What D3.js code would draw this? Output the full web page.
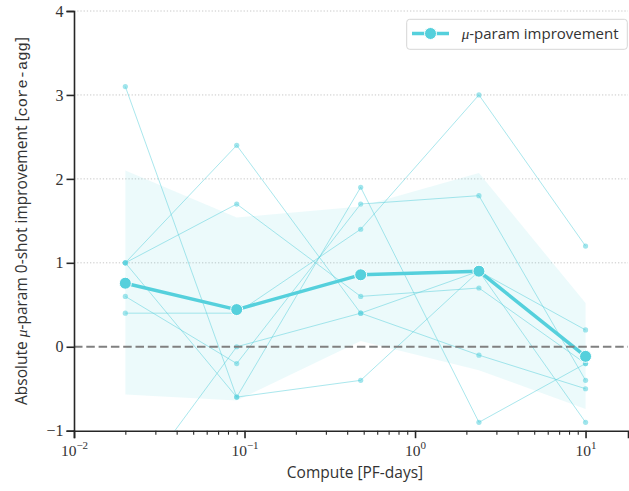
<!DOCTYPE html>
<html><head><meta charset="utf-8">
<script src="https://cdn.jsdelivr.net/npm/d3@7"></script>
<style>body{margin:0;background:#fff;} svg{display:block;}</style>
</head><body><svg id="chart" width="629" height="491"></svg>
<script>
// ---- data ----
const compute = [0.02, 0.09, 0.48, 2.37, 10];
const taskA = [3.1, -0.6, 1.9, -0.9, -0.2];
const taskB = [1.0, 2.4, 0.4, -0.1, -0.5];
const taskC = [1.0, 1.7, 0.6, 0.7, -0.2];
const taskD = [1.0, -0.6, -0.4, 0.9, -0.9];
const taskE = [0.6, -0.2, 1.7, 1.8, -0.4];
const taskF = [0.4, 0.4, 1.4, 3.0, 1.2];
const taskG = [-1.8, 0.0, 0.4, 0.9, 0.2];
const bandLow = [-0.57, -0.64, 0.07, -0.28, -0.74];
const bandHigh = [2.1, 1.54, 1.67, 2.07, 0.52];
const yTicks = [-1, 0, 1, 2, 3, 4];
const gridTicks = [1, 2, 3, 4];
const xTickExps = [-2, -1, 0, 1];
const legendLabel = "-param improvement";

const tasks = [taskA, taskB, taskC, taskD, taskE, taskF, taskG];
const meanVals = compute.map((c, i) => d3.mean(tasks, t => t[i]));

// ---- layout ----
const color = "#55d0dc";
const L = 74, R = 628, T = 11, B = 430.7;
const svg = d3.select("#chart");
const x = d3.scaleLog().domain([0.01, 17.74]).range([L, R]);
const y = d3.scaleLinear().domain([-1, 4]).range([B, T]);
const sans = "'Open Sans', sans-serif";
const serif = "'Liberation Serif', 'DejaVu Serif', serif";
const mono = "'Liberation Mono', 'DejaVu Sans Mono', monospace";

svg.append("defs").append("clipPath").attr("id", "clip")
  .append("rect").attr("x", L).attr("y", T).attr("width", R - L).attr("height", B - T);

// grid
svg.append("g").selectAll("line").data(gridTicks).join("line")
  .attr("x1", L).attr("x2", R).attr("y1", d => y(d)).attr("y2", d => y(d))
  .attr("stroke", "#c8c8c8").attr("stroke-width", 1).attr("stroke-dasharray", "1.3,1.9");

const plot = svg.append("g").attr("clip-path", "url(#clip)");

// band
const area = d3.area().x((d, i) => x(compute[i])).y0((d, i) => y(bandLow[i])).y1((d, i) => y(bandHigh[i]));
plot.append("path").datum(compute).attr("d", area).attr("fill", color).attr("fill-opacity", 0.11);

// thin task lines
const line = d3.line().x((d, i) => x(compute[i])).y(d => y(d));
tasks.forEach(t => {
  plot.append("path").datum(t).attr("d", line).attr("fill", "none")
    .attr("stroke", color).attr("stroke-opacity", 0.5).attr("stroke-width", 1);
  plot.append("g").selectAll("circle").data(t).join("circle")
    .attr("cx", (d, i) => x(compute[i])).attr("cy", d => y(d)).attr("r", 2.6)
    .attr("fill", color).attr("fill-opacity", 0.55);
});

// zero line
svg.append("line").attr("x1", L).attr("x2", R).attr("y1", y(0)).attr("y2", y(0))
  .attr("stroke", "#808080").attr("stroke-width", 2.2).attr("stroke-dasharray", "8.5,3.8");

// mean line
plot.append("path").datum(meanVals).attr("d", line).attr("fill", "none")
  .attr("stroke", color).attr("stroke-width", 3.5).attr("stroke-linejoin", "round");
svg.append("g").selectAll("circle").data(meanVals).join("circle")
  .attr("cx", (d, i) => x(compute[i])).attr("cy", d => y(d)).attr("r", 6)
  .attr("fill", color).attr("stroke", "#fff").attr("stroke-width", 1);

// axes
const axisColor = "#262626";
const yAxis = svg.append("g").attr("transform", `translate(${L},0)`)
  .call(d3.axisLeft(y).tickValues(yTicks).tickSize(7.5).tickPadding(3)
    .tickFormat(d => d < 0 ? "\u2212" + Math.abs(d) : d));
yAxis.select(".domain").attr("stroke", axisColor).attr("stroke-width", 1.6);
yAxis.selectAll(".tick line").attr("stroke", axisColor).attr("stroke-width", 1.6);
yAxis.selectAll(".tick text").attr("font-family", serif).attr("font-size", 16).attr("fill", "#333");

const minorTicks = [];
xTickExps.forEach(e => { for (let k = 2; k <= 9; k++) { const v = k * Math.pow(10, e); if (v <= 17.74) minorTicks.push(v); } });
const xMinor = svg.append("g").attr("transform", `translate(0,${B})`)
  .call(d3.axisBottom(x).tickValues(minorTicks).tickSize(4).tickFormat(""));
xMinor.select(".domain").remove();
xMinor.selectAll(".tick line").attr("stroke", axisColor).attr("stroke-width", 1.1);

const xAxis = svg.append("g").attr("transform", `translate(0,${B})`)
  .call(d3.axisBottom(x).tickValues(xTickExps.map(e => Math.pow(10, e))).tickSize(7.5).tickFormat(""));
xAxis.select(".domain").attr("stroke", axisColor).attr("stroke-width", 1.6);
xAxis.selectAll(".tick line").attr("stroke", axisColor).attr("stroke-width", 1.6);
xAxis.selectAll(".tick").each(function(d, i) {
  const t = d3.select(this).append("text").attr("y", 25.5).attr("text-anchor", "middle")
    .attr("font-family", serif).attr("font-size", 15.5).attr("fill", "#333");
  t.append("tspan").text("10");
  const e = xTickExps[i];
  t.append("tspan").attr("dy", -7).attr("font-size", 11).text(e < 0 ? "\u2212" + Math.abs(e) : e);
});

// axis titles
svg.append("text").attr("x", (L + R) / 2 + 4).attr("y", 478)
  .attr("text-anchor", "middle").attr("font-family", sans).attr("font-size", 15.5).attr("fill", "#333")
  .text("Compute [PF-days]");

const yt = svg.append("text").attr("transform", "translate(27,221) rotate(-90)")
  .attr("text-anchor", "middle").attr("font-family", sans).attr("font-size", 15.5).attr("fill", "#333");
yt.append("tspan").text("Absolute ");
yt.append("tspan").attr("font-family", serif).attr("font-style", "italic").text("\u03bc");
yt.append("tspan").text("-param 0-shot improvement [");
yt.append("tspan").attr("font-family", mono).text("core-agg");
yt.append("tspan").text("]");

// legend
const lg = svg.append("g");
lg.append("rect").attr("x", 406.7).attr("y", 19.3).attr("width", 220.6).attr("height", 30)
  .attr("rx", 3).attr("fill", "#fff").attr("fill-opacity", 0.8).attr("stroke", "#d6d6d6").attr("stroke-width", 1);
lg.append("line").attr("x1", 412).attr("x2", 449).attr("y1", 33.5).attr("y2", 33.5)
  .attr("stroke", color).attr("stroke-width", 3.5);
lg.append("circle").attr("cx", 430.5).attr("cy", 33.5).attr("r", 6)
  .attr("fill", color).attr("stroke", "#fff").attr("stroke-width", 1);
const lt = lg.append("text").attr("x", 461.7).attr("y", 39).attr("font-family", sans)
  .attr("font-size", 15).attr("fill", "#333");
lt.append("tspan").attr("font-family", serif).attr("font-style", "italic").text("\u03bc");
lt.append("tspan").text(legendLabel);
</script></body></html>
